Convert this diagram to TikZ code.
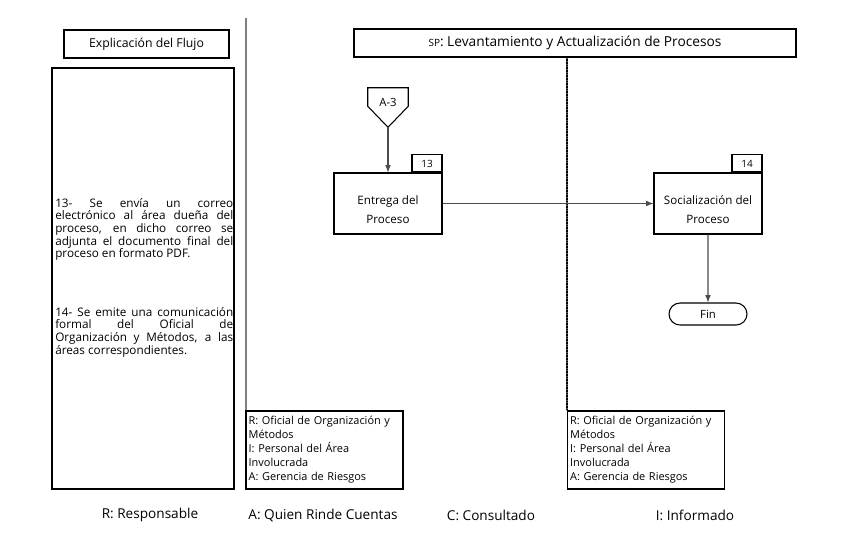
\documentclass[tikz,border=0pt]{standalone}
\usepackage{fontspec}
\setmainfont{Open Sans}
\usetikzlibrary{shapes.misc}

\newcommand{\renglon}[1]{\makebox[133.5pt][s]{#1}}

\begin{document}
\begin{tikzpicture}[x=0.75pt,y=-0.75pt,
	caja/.style={draw, line width=0.8pt, inner sep=0pt, align=center},
	flecha/.style={-latex, draw=black!70, line width=0.9pt},
	raci/.style={draw, line width=0.8pt, inner xsep=2pt, inner ysep=0pt, text width=113.75pt, minimum height=58.5pt, align=left, font=\fontsize{8.2}{10.5}\selectfont},
	tab/.style={caja, minimum width=22.5pt, minimum height=12.75pt, font=\fontsize{7.5}{9}\selectfont},
	paso/.style={caja, minimum width=81pt, minimum height=45.75pt, font=\fontsize{8.7}{14.25}\selectfont},
	leyenda/.style={font=\fontsize{10.2}{12}\selectfont}]
			\useasboundingbox (0,0) rectangle (863,554);

			% lane lines
			\draw [black!50, line width=1.5pt] (246,18) -- (246,489);

			% left column
			\node[caja, minimum width=123.75pt, minimum height=21pt, font=\fontsize{9.2}{11}\selectfont] (flujo) at (146.5,44) {Explicación del Flujo};
			\node[caja, minimum width=136.5pt, minimum height=315.75pt] (explica) at (143,278.5) {};
			\node[anchor=north west, inner sep=0pt, align=left, font=\fontsize{8.8}{9.5}\selectfont] (p13) at (55,198) {%
				\renglon{13- Se envía un correo}\\
				\renglon{electrónico al área dueña del}\\
				\renglon{proceso, en dicho correo se}\\
				\renglon{adjunta el documento final del}\\
				proceso en formato PDF.};
			\node[anchor=north west, inner sep=0pt, align=left, font=\fontsize{8.8}{9.5}\selectfont] (p14) at (55,307) {%
				\renglon{14- Se emite una comunicación}\\
				\renglon{formal del Oficial de}\\
				\renglon{Organización y Métodos, a las}\\
				áreas correspondientes.};

			% header
			\node[caja, minimum width=331.5pt, minimum height=21pt, font=\fontsize{10.3}{12}\selectfont] (sp) at (575,43) {{\fontsize{7.5}{9}\selectfont SP}: Levantamiento y Actualización de Procesos};

			% raci boxes
			\node[raci] (raci1) at (324.5,450) {R: Oficial de Organización y\\ Métodos\\ I: Personal del Área\\ Involucrada\\ A: Gerencia de Riesgos};
			\node[raci] (raci2) at (646,450) {R: Oficial de Organización y\\ Métodos\\ I: Personal del Área\\ Involucrada\\ A: Gerencia de Riesgos};
			\draw [line width=1.3pt, dash pattern=on 0.9pt off 0.3pt] (567,57) -- (raci2.north west);

			% connector A-3
			\node[minimum width=30pt, minimum height=13.5pt, inner sep=0pt] (conector) at (388,97) {};
			\node[font=\fontsize{8.5}{10}\selectfont, inner sep=0pt] (a3) at (388,102) {A-3};
			\path (conector.south) ++(0,21) coordinate (punta);
			\draw [line width=0.8pt] (conector.north west) -- (conector.north east) -- (conector.south east) -- (punta) -- (conector.south west) -- cycle;

			% steps
			\node[paso] (entrega) at (388,203.5) {\rule{0pt}{16pt}Entrega del\\ Proceso};
			\node[tab, anchor=south east] (n13) at (entrega.north east) {13};
			\node[paso] (socializa) at (708,203.5) {\rule{0pt}{16pt}Socialización del\\ Proceso};
			\node[tab, anchor=south east] (n14) at (socializa.north east) {14};
			\node[draw, rounded rectangle, line width=0.8pt, minimum width=58.5pt, minimum height=16.5pt, inner sep=0pt, font=\fontsize{8.5}{10}\selectfont] (fin) at (708,314) {Fin};

			% arrows
			\draw [flecha] (punta) -- (entrega);
			\draw [flecha] (entrega) -- (socializa);
			\draw [flecha] (socializa) -- (fin);

			% legend
			\node[leyenda] (lr) at (150,515) {R: Responsable};
			\node[leyenda] (la) at (323,515) {A: Quien Rinde Cuentas};
			\node[leyenda] (lc) at (491,515) {C: Consultado};
			\node[leyenda] (li) at (695,515) {I: Informado};
		\end{tikzpicture}
\end{document}
